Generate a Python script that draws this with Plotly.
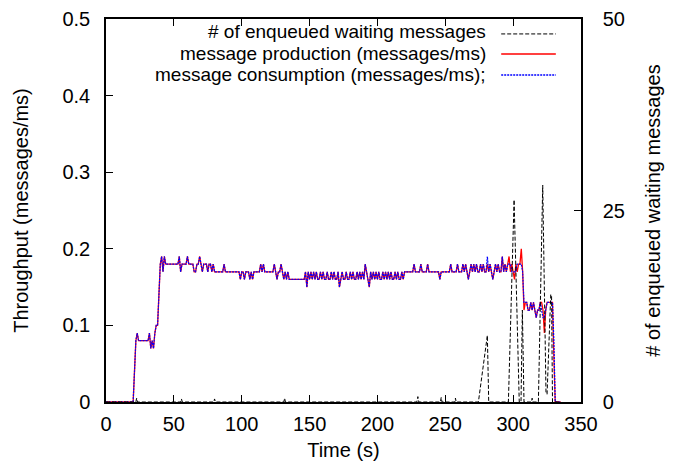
import plotly.graph_objects as go

# ---------------- data ----------------
time_s = list(range(0, 336))

# message production, in 1/100 messages/ms, one value per second (t = 0..335)
production_x100 = [
    0, 0, 0, 0, 0, 0, 0, 0, 0, 0,
    0, 0, 0, 0, 0, 0, 0, 0, 0, 0,
    0, 4, 8, 9, 8, 8, 8, 8, 8, 8,
    8, 8, 9, 7, 8, 7, 9, 10, 10, 15,
    18, 19, 17, 19, 18, 18, 18, 18, 18, 18,
    18, 18, 18, 18, 19, 17, 18, 18, 18, 18,
    19, 18, 18, 18, 18, 17, 17, 18, 18, 19,
    18, 17, 18, 18, 18, 17, 18, 18, 17, 18,
    17, 17, 17, 17, 17, 17, 17, 18, 17, 17,
    17, 17, 17, 17, 17, 17, 17, 17, 17, 16,
    17, 17, 16, 17, 17, 17, 16, 17, 16, 17,
    17, 17, 17, 17, 18, 17, 18, 17, 17, 17,
    17, 17, 17, 17, 18, 17, 16, 17, 17, 18,
    17, 16, 17, 16, 17, 16, 16, 16, 16, 16,
    16, 16, 16, 16, 16, 16, 16, 17, 15, 17,
    16, 17, 16, 17, 16, 17, 16, 16, 17, 16,
    17, 16, 16, 17, 16, 16, 17, 16, 17, 16,
    16, 17, 15, 16, 17, 16, 16, 17, 16, 16,
    17, 16, 17, 16, 16, 17, 16, 17, 16, 17,
    16, 18, 17, 16, 15, 17, 16, 17, 16, 17,
    16, 17, 16, 16, 17, 16, 17, 16, 17, 16,
    17, 16, 16, 17, 16, 17, 16, 16, 17, 16,
    17, 17, 17, 17, 17, 17, 17, 18, 17, 17,
    17, 17, 18, 17, 17, 17, 17, 18, 17, 17,
    17, 17, 17, 17, 17, 17, 16, 17, 17, 17,
    17, 17, 17, 17, 18, 17, 17, 17, 17, 18,
    17, 17, 17, 18, 17, 18, 17, 16, 17, 18,
    17, 18, 17, 18, 17, 17, 18, 17, 18, 17,
    17, 18, 17, 18, 17, 16, 17, 18, 17, 18,
    17, 17, 19, 17, 18, 17, 18, 19, 17, 18,
    17, 16, 18, 17, 18, 18, 20, 17, 12, 13,
    13, 12, 12, 13, 12, 13, 12, 11, 12, 12,
    13, 13, 12, 9, 12, 13, 13, 13, 13, 13,
    6, 0, 0, 0, 0, 0,
]

# message consumption follows production until t = 280, then (t = 280..335):
consumption_tail_x100 = [
    17, 19, 17, 18, 17, 16, 17, 18, 17, 18,
    17, 17, 19, 17, 18, 17, 18, 18, 18, 17,
    17, 17, 17, 18, 18, 18, 18, 17, 13, 13,
    13, 12, 12, 13, 12, 13, 12, 11, 12, 12,
    13, 12, 11, 11, 12, 13, 13, 13, 13, 13,
    8, 0, 0, 0, 0, 0,
]

# number of enqueued waiting messages
queue_t = [0, 22, 22.6, 23.2, 55, 55.6, 56.2, 79.4, 80, 80.6,
           131, 131.6, 132.2, 229, 229.8, 230.5, 246.4, 247, 247.6,
           257, 257.5, 258, 274.4, 281, 282, 296.5, 300.7, 302.2, 303,
           304.5, 305.8, 306.8, 308, 313.5, 314, 314.5, 318.6, 321.8,
           324.2, 325, 327.7, 328.3, 329, 335]
queue_n = [0, 0, 0.5, 0, 0, 0.4, 0, 0, 0.4, 0,
           0, 0.5, 0, 0, 0.7, 0, 0, 0.6, 0,
           0, 0.5, 0, 0, 8.7, 0, 0, 26.4, 15, 12,
           0, 0, 12, 0, 0, 0.5, 0, 0, 28.3,
           1.3, 1, 14, 14, 0, 0]

legend_labels = ["# of enqueued waiting messages",
                 "message production (messages/ms)",
                 "message consumption (messages/ms);"]

production = [v / 100 for v in production_x100]
consumption = production[:280] + [v / 100 for v in consumption_tail_x100]

FONT = "Liberation Sans, Arial, sans-serif"

fig = go.Figure()
fig.add_trace(go.Scatter(x=queue_t, y=queue_n, mode="lines", yaxis="y2",
                         name=legend_labels[0],
                         line=dict(color="black", width=1, dash="4px,2px")))
fig.add_trace(go.Scatter(x=time_s, y=production, mode="lines",
                         name=legend_labels[1],
                         line=dict(color="#ff0000", width=1.3)))
fig.add_trace(go.Scatter(x=time_s, y=consumption, mode="lines",
                         name=legend_labels[2],
                         line=dict(color="#0000ff", width=1.2, dash="2px,1px")))

axis_common = dict(showgrid=False, zeroline=False, showline=True,
                   linecolor="black", linewidth=1.5, ticks="inside",
                   ticklen=7, tickwidth=1, tickcolor="black",
                   automargin=False,
                   tickfont=dict(size=20, family=FONT, color="black"))

fig.update_layout(
    width=674, height=466,
    margin=dict(l=106, r=93, t=19, b=64),
    plot_bgcolor="white", paper_bgcolor="white",
    font=dict(family=FONT, size=20, color="black"),
    showlegend=False,
    xaxis=dict(range=[0, 350], tickvals=[0, 50, 100, 150, 200, 250, 300, 350],
               mirror="ticks", ticklabelstandoff=3,
               title=dict(text="Time (s)", standoff=9,
                          font=dict(size=20, family=FONT)),
               **axis_common),
    yaxis=dict(range=[0, 0.5], tickvals=[0, 0.1, 0.2, 0.3, 0.4, 0.5],
               ticktext=["0", "0.1", "0.2", "0.3", "0.4", "0.5"],
               ticklabelstandoff=10,
               title=dict(text="Throughput (messages/ms)", standoff=28,
                          font=dict(size=20, family=FONT)),
               **axis_common),
    yaxis2=dict(range=[0, 50], tickvals=[0, 25, 50], overlaying="y",
                side="right", ticklabelstandoff=16,
                title=dict(text="# of enqueued waiting messages", standoff=22,
                           font=dict(size=20, family=FONT)),
                **axis_common),
)

# gnuplot-style key: right-aligned text with the line sample on its right
key_text_y = [0.9661, 0.9104, 0.8548]
key_line_y = [0.961, 0.9086, 0.8538]
key_dash = ["4px,2px", "solid", "2px,1px"]
key_color = ["black", "#ff0000", "#0000ff"]
key_width = [1, 1.3, 1.4]
for label, ty, ly, dsh, col, w in zip(legend_labels, key_text_y, key_line_y,
                                      key_dash, key_color, key_width):
    fig.add_annotation(x=0.804, y=ty, xref="paper", yref="paper",
                       text=label, showarrow=False, xanchor="right",
                       yanchor="middle",
                       font=dict(size=19, family=FONT, color="black"))
    fig.add_shape(type="line", xref="paper", yref="paper",
                  x0=0.832, x1=0.947, y0=ly, y1=ly,
                  line=dict(color=col, width=w, dash=dsh))

fig.write_html("out.html")
